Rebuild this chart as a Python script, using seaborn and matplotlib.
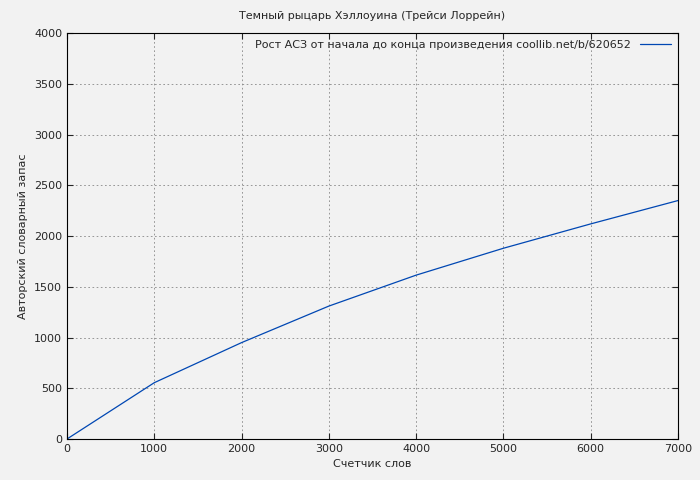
import pandas as pd
import seaborn as sns
import matplotlib.pyplot as plt

words = [0, 1000, 2000, 3000, 4000, 5000, 6000, 7000]
vocab = [0, 555, 950, 1310, 1615, 1880, 2120, 2350]
series_name = "Рост АСЗ от начала до конца произведения coollib.net/b/620652"

df = pd.DataFrame({"words": words, "vocab": vocab})

sns.set_style("ticks")
plt.rcParams['font.family'] = ['DejaVu Sans']

fig = plt.figure(figsize=(7, 4.8), dpi=100, facecolor="#f2f2f2")
ax = fig.add_axes([0.0957, 0.0854, 0.8729, 0.8456])
ax.set_facecolor("#f2f2f2")

sns.lineplot(data=df, x="words", y="vocab", color="#0047b3", linewidth=0.9,
             label=series_name, ax=ax)

ax.set_xlim(0, 7000)
ax.set_ylim(0, 4000)
ax.set_xticks(range(0, 7001, 1000))
ax.set_yticks(range(0, 4001, 500))
ax.grid(True, linestyle=(0, (2, 3)), color="#888888", linewidth=0.6)
for s in ax.spines.values():
    s.set_color("black")
    s.set_linewidth(0.8)
ax.tick_params(labelsize=8, direction="in", length=4, top=True, right=True)

ax.set_title("Темный рыцарь Хэллоуина (Трейси Лоррейн)", fontsize=8, pad=10)
ax.set_xlabel("Счетчик слов", fontsize=8)
ax.set_ylabel("Авторский словарный запас", fontsize=8)

leg = ax.legend(loc="upper right", fontsize=8, frameon=False, markerfirst=False,
                handlelength=2.8, borderaxespad=0.2)

fig.savefig("out.png", dpi=100, facecolor=fig.get_facecolor())
